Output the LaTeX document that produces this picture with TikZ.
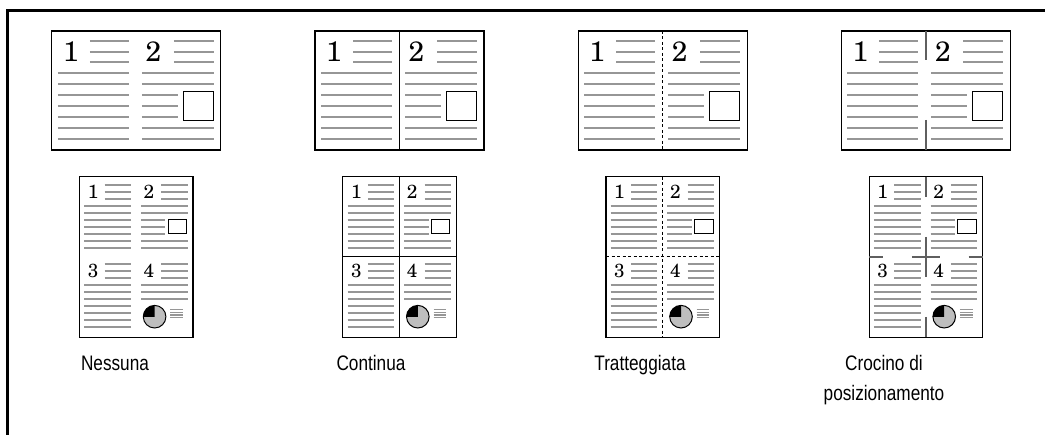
\documentclass[tikz,border=0pt]{standalone}
\usepackage{fontspec}
\setsansfont{Liberation Sans}
\newfontfamily\digitfont{texgyreschola-regular.otf}
\newfontfamily\lblfont[FakeStretch=0.82]{Liberation Sans}
\definecolor{tgray}{RGB}{150,150,150}
\definecolor{piegray}{RGB}{190,190,190}
\definecolor{cropgray}{RGB}{95,95,95}
\newcommand\landpage[2]{%
\begin{scope}[shift={(#1,0)}]
 \draw[pageframe] (-84.5,31) rectangle (84.5,150);
 \foreach \k in {0,1,2}{\pgfmathsetmacro\yy{40.7+10.9*\k}
   \draw[ltxt] (-46.5,\yy) -- (-7.5,\yy); \draw[ltxt] (37.5,\yy) -- (77.5,\yy);}
 \foreach \k in {3,...,9}{\pgfmathsetmacro\yy{40.7+10.9*\k}
   \draw[ltxt] (-78.5,\yy) -- (-7.5,\yy);}
 \foreach \k in {3,4,8,9}{\pgfmathsetmacro\yy{40.7+10.9*\k}
   \draw[ltxt] (5.5,\yy) -- (77.5,\yy);}
 \foreach \k in {5,6,7}{\pgfmathsetmacro\yy{40.7+10.9*\k}
   \draw[ltxt] (5.5,\yy) -- (41.5,\yy);}
 \draw[black,line width=1pt] (46.8,92) rectangle (76.8,120.7);
 \node[bigdigit] (L1#2) at (-65.5,51.7) {1};
 \node[bigdigit] (L2#2) at (17,51.7) {2};
\end{scope}}
\newcommand\portpage[2]{%
\begin{scope}[shift={(#1,0)}]
 \draw[pageframe] (-56.7,176.7) rectangle (56.7,337.3);
 \foreach \base in {185,264.3}{
 \foreach \k in {0,1,2}{\pgfmathsetmacro\yy{\base+7*\k}
   \draw[ptxt] (-31.7,\yy) -- (-5.3,\yy); \draw[ptxt] (25,\yy) -- (51.3,\yy);}
 \foreach \k in {3,...,9}{\pgfmathsetmacro\yy{\base+7*\k}
   \draw[ptxt] (-52,\yy) -- (-5.3,\yy);}
 }
 \foreach \k in {3,4,8,9}{\pgfmathsetmacro\yy{185+7*\k}
   \draw[ptxt] (4.7,\yy) -- (51.3,\yy);}
 \foreach \k in {5,6,7}{\pgfmathsetmacro\yy{185+7*\k}
   \draw[ptxt] (4.7,\yy) -- (29,\yy);}
 \draw[black,line width=1pt] (31.7,220) rectangle (50.3,233.3);
 \foreach \k in {3,4,5}{\pgfmathsetmacro\yy{264.3+7*\k}
   \draw[ptxt] (4.7,\yy) -- (51.3,\yy);}
 \fill[piegray] (18.3,316.7) circle (11.3);
 \begin{scope}
  \clip (6,304) rectangle (18.3,316.7);
  \fill[black] (18.3,316.7) circle (11.3);
 \end{scope}
 \draw[black,line width=1pt] (18.3,316.7) circle (11.3);
 \foreach \yy in {309.8,312.4,315,317.6}{\draw[draw=tgray,line width=1.3pt] (34,\yy) -- (46.7,\yy);}
 \node[smalldigit] (P1#2) at (-43.2,192) {1};
 \node[smalldigit] (P2#2) at (12.7,192) {2};
 \node[smalldigit] (P3#2) at (-43.2,271.3) {3};
 \node[smalldigit] (P4#2) at (12.7,271.3) {4};
\end{scope}}
\begin{document}
\begin{tikzpicture}[x=1pt,y=-1pt,
 pageframe/.style={draw=black,line width=1.3pt},
 ltxt/.style={draw=tgray,line width=2pt},
 ptxt/.style={draw=tgray,line width=1.8pt},
 solidiv/.style={draw=black,line width=1pt},
 dashdiv/.style={draw=black,line width=1pt,dash pattern=on 3pt off 2.5pt},
 cropmark/.style={draw=cropgray,line width=1.5pt},
 bigdigit/.style={font=\digitfont\fontsize{28}{28}\selectfont,inner sep=0pt},
 smalldigit/.style={font=\digitfont\fontsize{19}{19}\selectfont,inner sep=0pt},
 lbl/.style={font=\lblfont\fontsize{21}{30}\selectfont,align=center,anchor=base}]
\useasboundingbox (0,0) rectangle (1045,435);
\draw[line width=3pt] (1047,10.5) -- (7,10.5) -- (7,437);
% panel 1: none
\landpage{136.3}{a}
\portpage{136.3}{a}
% panel 2: solid
\landpage{399.5}{b}
\portpage{399.5}{b}
\draw[solidiv] (399.5,31) -- (399.5,150);
\draw[solidiv] (399.5,176.7) -- (399.5,337.3);
\draw[solidiv] (342.8,257) -- (456.2,257);
% panel 3: dashed
\landpage{662.7}{c}
\portpage{662.7}{c}
\draw[dashdiv] (662.7,31) -- (662.7,150);
\draw[dashdiv] (662.7,176.7) -- (662.7,337.3);
\draw[dashdiv] (606,257) -- (719.4,257);
% panel 4: crop marks
\landpage{925.9}{d}
\portpage{925.9}{d}
\draw[cropmark] (925.9,31) -- (925.9,60);
\draw[cropmark] (925.9,120) -- (925.9,150);
\draw[cropmark] (925.9,176.7) -- (925.9,196.7);
\draw[cropmark] (925.9,237) -- (925.9,277);
\draw[cropmark] (911.9,257) -- (939.9,257);
\draw[cropmark] (925.9,317) -- (925.9,337.3);
\draw[cropmark] (869.2,257) -- (883.2,257);
\draw[cropmark] (968.6,257) -- (982.6,257);
% labels
\node[lbl] (l1) at (115,371) {Nessuna};
\node[lbl] (l2) at (371,371) {Continua};
\node[lbl] (l3) at (640,371) {Tratteggiata};
\node[lbl] (l4) at (884,401) {Crocino di\\posizionamento};
\end{tikzpicture}
\end{document}
